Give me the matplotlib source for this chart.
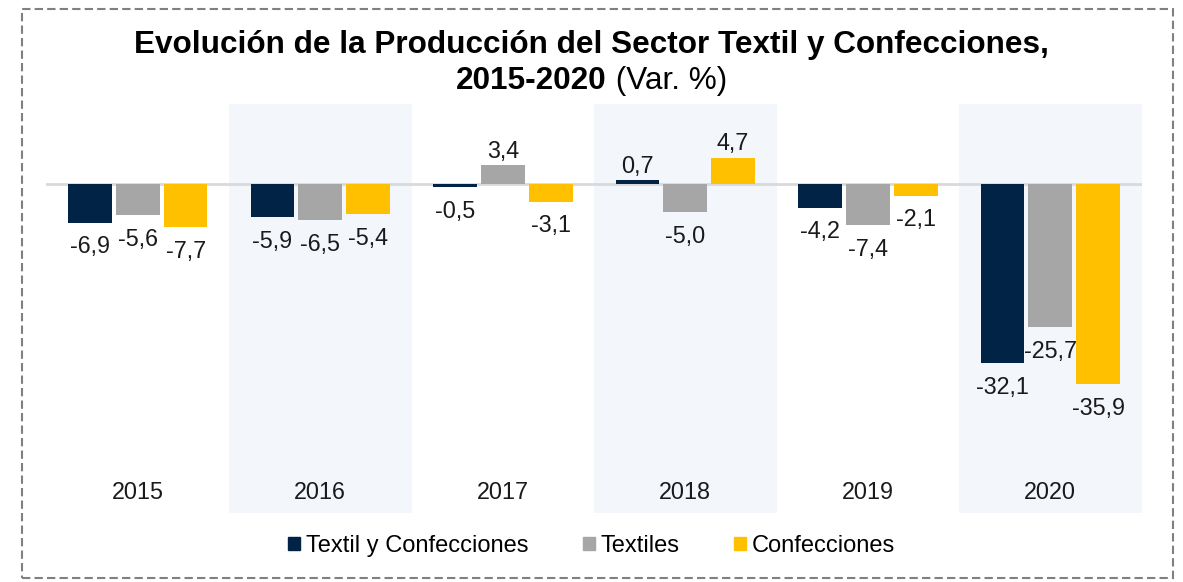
import matplotlib.pyplot as plt
from matplotlib.patches import Rectangle, Patch
from matplotlib.transforms import blended_transform_factory

plt.rcParams["font.family"] = ["Liberation Sans", "DejaVu Sans"]

years = ["2015", "2016", "2017", "2018", "2019", "2020"]
series_names = ["Textil y Confecciones", "Textiles", "Confecciones"]
textil_conf = [-6.9, -5.9, -0.5, 0.7, -4.2, -32.1]
textiles = [-5.6, -6.5, 3.4, -5.0, -7.4, -25.7]
confecciones = [-7.7, -5.4, -3.1, 4.7, -2.1, -35.9]
colors = ["#002346", "#A6A6A6", "#FFC000"]


def fmt(v):
    return f"{v:.1f}".replace(".", ",")


def main():
    W, H = 1183, 582
    fig = plt.figure(figsize=(W / 100, H / 100), dpi=100)
    ax = fig.add_axes([0.0393, 0.1186, 0.9257, 0.7027])

    # shaded bands behind every other year
    for i in range(1, len(years), 2):
        ax.axvspan(i - 0.5, i + 0.5, color="#F3F6FB", zorder=0, lw=0)

    ax.axhline(0, color="#D9D9D9", lw=2, zorder=1)

    width = 0.24
    step = 0.262
    data = [textil_conf, textiles, confecciones]
    for k, (vals, name, c) in enumerate(zip(data, series_names, colors)):
        xs = [i + (k - 1) * step for i in range(len(years))]
        ax.bar(xs, vals, width=width, color=c, label=name, zorder=2)
        for x, v in zip(xs, vals):
            off = 2 if v >= 0 else -9
            va = "bottom" if v >= 0 else "top"
            ax.annotate(fmt(v), (x, v), xytext=(0, off), textcoords="offset points",
                        ha="center", va=va, fontsize=16.8, color="#1a1a1a")

    trans = blended_transform_factory(ax.transData, ax.transAxes)
    for i, y in enumerate(years):
        ax.text(i, 0.05, y, transform=trans, ha="center", va="center",
                fontsize=16.8, color="#1a1a1a")

    ax.set_xlim(-0.5, len(years) - 0.5)
    ax.set_ylim(-59, 14.4)
    ax.axis("off")

    fig.text(0.5, 1 - 45 / H, "Evolución de la Producción del Sector Textil y Confecciones,",
             ha="center", va="center", fontsize=22.7, fontweight="bold")
    t1 = fig.text(0.5, 1 - 81 / H, "2015-2020", ha="left", va="center",
                  fontsize=22.7, fontweight="bold")
    t2 = fig.text(0.5, 1 - 81 / H, " (Var. %)", ha="left", va="center", fontsize=22.7)
    # centre the mixed-weight second line as a whole
    fig.canvas.draw()
    r = fig.canvas.get_renderer()
    w1 = t1.get_window_extent(r).width
    w2 = t2.get_window_extent(r).width
    x0 = (W - (w1 + w2)) / 2
    t1.set_x(x0 / W)
    t2.set_x((x0 + w1) / W)

    handles = [Patch(color=c, label=n) for c, n in zip(colors, series_names)]
    fig.legend(handles=handles, loc="center", bbox_to_anchor=(0.5, 1 - 546 / H), ncol=3,
               frameon=False, fontsize=17, handlelength=0.5, handleheight=0.45,
               handletextpad=0.25, columnspacing=2.3)

    border = Rectangle((22 / W, 1 - 578 / H), 1151 / W, 569 / H,
                       transform=fig.transFigure, fill=False, ec="#808080",
                       lw=1.5, ls=(0, (4, 2)))
    fig.patches.append(border)

    fig.savefig("out.png", dpi=100)


if __name__ == "__main__":
    main()
